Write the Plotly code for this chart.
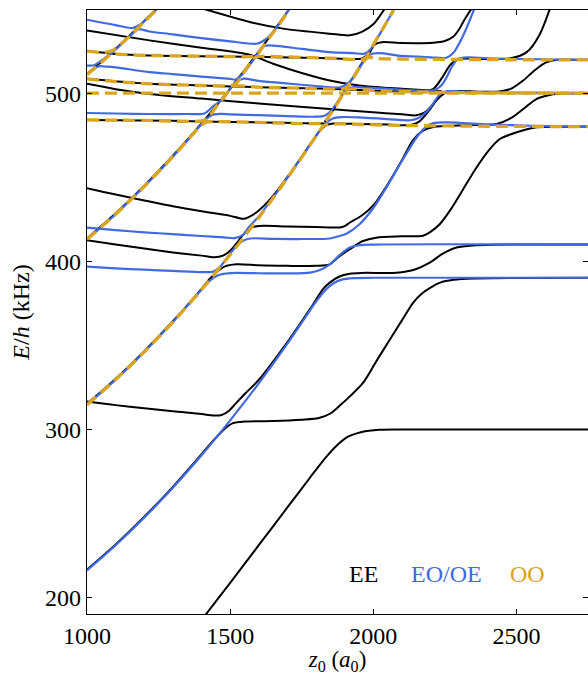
import plotly.graph_objects as go

BLACK = "#000000"
BLUE = "#4169E1"
GOLD = "#DAA520"
SERIF = "'Liberation Serif', 'Times New Roman', 'DejaVu Serif', serif"

# ---------------- EE levels (black) ----------------
ee1_z = [1405, 1500, 1600, 1700, 1780, 1830, 1870, 1910, 1960, 2020, 2100, 2750]
ee1_e = [187.5, 208.5, 231, 253.5, 271.5, 282.5, 290, 295.5, 298.5, 299.8, 300, 300]

ee2_z = [1000, 1100, 1200, 1300, 1380, 1430, 1460, 1485, 1510, 1550, 1650, 1750, 1810, 1850, 1885, 1920, 1964, 2010, 2058, 2100, 2139, 2170, 2200, 2233, 2280, 2350, 2750]
ee2_e = [216.5, 231.5, 248, 265.8, 281.2, 291.2, 296.8, 301, 303.8, 304.7, 305, 305.8, 306.8, 309.5, 314.5, 320, 327.7, 340.5, 353.6, 365, 375.5, 381, 384.5, 387.5, 389.2, 390, 390.4]

ee3_z = [1000, 1100, 1200, 1300, 1400, 1440, 1470, 1495, 1520, 1550, 1600, 1700, 1780, 1825, 1848, 1880, 1918, 1960, 2081, 2140, 2197, 2240, 2291, 2349, 2420, 2750]
ee3_e = [316.7, 314.5, 312.7, 310.8, 309.2, 308.3, 308.6, 311, 315.5, 321, 329.5, 352, 372, 383.8, 387.5, 391, 392.8, 393.3, 393.4, 395, 399.4, 404.5, 408.4, 409.7, 410.1, 410.2]

ee4_z = [1000, 1100, 1200, 1300, 1400, 1430, 1455, 1480, 1522, 1600, 1700, 1800, 1848, 1880, 1918, 1964, 2010, 2100, 2174, 2200, 2232, 2270, 2314, 2360, 2407, 2442, 2501, 2571, 2650, 2750]
ee4_e = [315.2, 330.2, 346.7, 364.5, 383.8, 390, 394, 397, 398.4, 397.8, 397.5, 397.5, 398.4, 403, 407.4, 412.3, 414.3, 415.1, 415.5, 417.8, 422.3, 431, 443.2, 456, 467.1, 473.1, 477.1, 480.1, 480.4, 480.5]

ee5_z = [1000, 1100, 1200, 1300, 1400, 1445, 1475, 1500, 1525, 1545, 1570, 1600, 1700, 1800, 1883, 1900, 1920, 1960, 2000, 2050, 2100, 2139, 2174, 2210, 2244, 2330, 2431, 2480, 2524, 2571, 2620, 2664, 2750]
ee5_e = [412.7, 410.2, 407.8, 405.5, 403.6, 402.6, 403.6, 406.5, 411.5, 416, 420, 421.3, 421, 420.6, 420.4, 421.2, 423.5, 427.5, 433.5, 446, 460.5, 472.5, 478.1, 480.3, 480.8, 481.3, 482.1, 485.5, 491, 497, 499.5, 500.2, 500.4]

ee6_z = [1000, 1100, 1200, 1300, 1400, 1500, 1530, 1550, 1570, 1600, 1650, 1700, 1750, 1790, 1815, 1835, 1860, 1950, 2050, 2130, 2160, 2190, 2220, 2250, 2290, 2431, 2480, 2520, 2560, 2600, 2640, 2700, 2750]
ee6_e = [443.8, 440, 436.5, 433, 430, 427.3, 426, 425.6, 427, 430.5, 439.2, 450.4, 462.6, 472.6, 478.5, 481.3, 482.3, 482, 481.7, 481.5, 483.5, 489, 496, 500.5, 501.6, 501.3, 503, 507.5, 513.5, 518.5, 520.3, 520.4, 520.3]

ee7_z = [1000, 1200, 1400, 1600, 1800, 1835]
ee7_e = [484.5, 484.2, 483.6, 483, 482.4, 482.3]

ee8_z = [1000, 1100, 1218, 1400, 1600, 1848, 2000, 2100, 2150, 2180, 2210, 2240, 2270]
ee8_e = [506, 502.8, 500, 497.2, 494.3, 491, 489, 487.8, 487.2, 489, 494, 500.5, 501.5]

ee9_z = [1000, 1218, 1400, 1600, 1848, 2000, 2180, 2210, 2240, 2270, 2300, 2400, 2480, 2536, 2580, 2617]
ee9_e = [509, 506, 505, 504, 503, 502, 501.4, 503, 509.5, 517.5, 520.8, 520.8, 521.2, 524.9, 535, 550.8]

ee10_z = [1000, 1100, 1218, 1500, 1848, 1960, 1985, 2005, 2030, 2100, 2210, 2250, 2279, 2300, 2314, 2343]
ee10_e = [525.5, 523.8, 522.9, 522.3, 521.3, 521.1, 524.2, 529.5, 530.8, 530.3, 530.5, 531.5, 534, 538.5, 542.9, 550.8]

ee11_z = [1000, 1218, 1400, 1568, 1650, 1750, 1848, 1950, 2100, 2240]
ee11_e = [537.8, 531.9, 527.5, 523.3, 518, 512.5, 508, 505, 503, 501.5]

ee12_z = [1405, 1568, 1685, 1848, 1918, 1960, 2000, 2040]
ee12_e = [550.8, 542.9, 538.9, 535.9, 534.9, 537, 541.5, 550.8]

ee13_z = [1830, 1860, 1900, 1950, 1990]
ee13_e = [483.3, 490.5, 501.8, 515.6, 526.4]

ee14_z = [1000, 1100, 1200, 1300, 1400, 1500, 1600, 1650, 1706]
ee14_e = [413.8, 428.8, 445.3, 463.1, 482.4, 503.2, 525.3, 537, 550.5]

ee15_z = [1000, 1050, 1100, 1150, 1200, 1245]
ee15_e = [511.9, 519.2, 526.9, 535, 543.4, 551]

# ---------------- EO/OE levels (blue) ----------------
eo1_z = [1000, 1100, 1200, 1300, 1400, 1500, 1600, 1700, 1760, 1800, 1835, 1860, 1890, 1930, 2000, 2750]
eo1_e = [216, 231, 247.5, 265.3, 284.6, 305.4, 327.5, 351.1, 366.2, 376.2, 383.5, 387, 389.3, 390.2, 390.4, 390.4]

eo2_z = [1000, 1100, 1200, 1300, 1360, 1400, 1430, 1460, 1500, 1600, 1700, 1780, 1820, 1848, 1880, 1918, 1950, 2000, 2750]
eo2_e = [314.7, 329.7, 346.2, 364, 375.5, 383.3, 388.8, 392, 393.2, 393.1, 393, 393.5, 395.5, 398.4, 403.5, 408.4, 409.8, 410.2, 410.2]

eo3_z = [1000, 1100, 1200, 1300, 1400, 1440, 1465, 1490, 1515, 1540, 1570, 1650, 1750, 1848, 1880, 1906, 1950, 2000, 2050, 2100, 2151, 2180, 2210, 2260, 2400, 2550, 2750]
eo3_e = [397, 396, 395.2, 394.5, 393.8, 394, 397, 402.5, 408, 412, 413.8, 413.6, 413.5, 413.8, 415.2, 416.7, 422, 432, 445.5, 460, 474, 479.8, 482.6, 483, 481.8, 481, 480.5]

eo4_z = [1000, 1100, 1200, 1300, 1400, 1480, 1515, 1545, 1565, 1600, 1650, 1700, 1750, 1790, 1815, 1835, 1860, 1890, 1950, 2050, 2130, 2160, 2185, 2210, 2235, 2260, 2300, 2400, 2750]
eo4_e = [420.3, 418.8, 417.5, 416.4, 415.3, 414.5, 414, 416, 420.5, 427, 438.3, 450, 462.3, 472.3, 478.5, 482.5, 485.5, 486.2, 486, 485, 484.3, 485.8, 489, 494.5, 500.2, 501.6, 501.3, 500.8, 500.4]

eo5_z = [1000, 1100, 1200, 1300, 1350, 1400, 1420, 1440, 1470, 1500, 1600, 1700, 1800, 1830, 1850, 1870, 1890, 1905, 1930, 1970, 2050, 2150, 2195, 2220, 2240, 2258, 2275, 2295, 2330, 2400, 2750]
eo5_e = [413.3, 428.3, 444.8, 462.6, 472.1, 481.9, 485.5, 487.6, 488.1, 487.8, 487.3, 486.8, 486.4, 487, 489.5, 494, 499, 502.5, 504, 503.8, 503, 502, 501.8, 502.8, 505.5, 510.5, 516.3, 520.8, 521.8, 521.2, 520.3]

eo6_z = [1000, 1100, 1218, 1350, 1410, 1440, 1470, 1500, 1520, 1545, 1600, 1700, 1800, 1880, 1900, 1930, 1950, 1970, 1990, 2020, 2100, 2200, 2255, 2280, 2300, 2320, 2352]
eo6_e = [488.6, 488.3, 488, 488, 488.3, 492.5, 496.5, 502.7, 506.8, 509, 507.8, 506.2, 504.7, 503.8, 505, 509.5, 515, 520, 523.5, 524.3, 522.6, 521.8, 521.5, 524.5, 530, 537, 550.3]

eo7_z = [1000, 1020, 1040, 1070, 1100, 1218, 1300, 1400, 1500, 1520, 1545, 1570, 1600, 1620, 1650, 1750, 1848, 1930, 1970, 1990, 2010, 2030, 2050, 2071]
eo7_e = [511.4, 514.2, 516.4, 516.2, 515.8, 513, 511.8, 510.3, 508.9, 508.6, 512, 517.5, 524.8, 528.5, 528.8, 526.8, 524.9, 524.3, 524, 526.5, 532, 537.8, 543.7, 550]

eo8_z = [1000, 1025, 1050, 1075, 1100, 1150, 1180, 1200, 1218, 1300, 1400, 1500, 1592, 1615, 1640, 1670, 1706]
eo8_e = [516.9, 517.1, 519.8, 523, 526.4, 534.5, 538.6, 538, 537.2, 535.5, 533.2, 531.3, 529.9, 531.5, 535, 541.3, 550.3]

eo9_z = [1000, 1100, 1160, 1190, 1210, 1242]
eo9_e = [544.2, 541, 539.3, 541.8, 545, 550.2]

# ---------------- OO levels (gold, dashed) ----------------
oo1_z = [1000, 1100, 1200, 1300, 1400, 1500, 1600, 1700, 1750, 1790, 1810, 1825, 1845, 1880, 2100, 2400, 2750]
oo1_e = [314.7, 329.7, 346.2, 364, 383.3, 404.1, 426.2, 449.8, 462.2, 472.3, 477.3, 480.8, 482.1, 482.1, 481.2, 480.7, 480.5]

oo2_z = [1000, 1100, 1200, 1300, 1350, 1380, 1400, 1415, 1440, 1600, 1800, 1830, 1850, 1870, 1890, 1905, 1925, 2000, 2200, 2500, 2750]
oo2_e = [413.3, 428.3, 444.8, 462.6, 472.1, 477.9, 481.3, 483.2, 483.5, 483, 482.3, 483, 487.9, 493.2, 498.6, 502.3, 503, 502, 501, 500.5, 500.4]

oo3_z = [1000, 1200, 1390, 1410, 1430, 1450, 1470, 1490, 1505, 1520, 1600, 1800, 1890, 1905, 1920, 1950, 1975, 1990, 2010, 2100, 2400, 2750]
oo3_e = [484.5, 484.2, 483.7, 484.5, 487.2, 492.1, 496.2, 500.6, 504, 504.8, 504, 503.2, 502.9, 503.5, 506.8, 515.1, 521, 521.8, 521.1, 520.8, 520.4, 520.3]

oo4_z = [1000, 1100, 1218, 1400, 1495, 1515, 1530, 1550, 1570, 1590, 1610, 1700, 1848, 1970, 1985, 2000, 2030, 2050, 2071]
oo4_e = [509, 507.3, 506, 505, 504.8, 505.5, 508, 513.6, 518.1, 522, 522.4, 522, 521.3, 521.1, 524.5, 529.2, 537.9, 543.7, 550]

oo5_z = [1000, 1050, 1075, 1090, 1120, 1218, 1400, 1570, 1590, 1610, 1620, 1650, 1680, 1706]
oo5_e = [511.4, 518.7, 522.5, 523.8, 523.5, 522.9, 522.5, 522.2, 522.6, 527, 529.4, 536.5, 543.5, 550]

oo6_z = [1000, 1060, 1085, 1100, 1150, 1200, 1242]
oo6_e = [525.5, 524.7, 525.5, 527, 534.5, 542.9, 550]

oo7_z = [1000, 2750]
oo7_e = [500.4, 500.4]

ee_levels = [(ee1_z, ee1_e), (ee2_z, ee2_e), (ee3_z, ee3_e), (ee4_z, ee4_e), (ee5_z, ee5_e),
             (ee6_z, ee6_e), (ee7_z, ee7_e), (ee8_z, ee8_e), (ee9_z, ee9_e), (ee10_z, ee10_e),
             (ee11_z, ee11_e), (ee12_z, ee12_e), (ee13_z, ee13_e), (ee14_z, ee14_e), (ee15_z, ee15_e)]
eo_levels = [(eo1_z, eo1_e), (eo2_z, eo2_e), (eo3_z, eo3_e), (eo4_z, eo4_e), (eo5_z, eo5_e),
             (eo6_z, eo6_e), (eo7_z, eo7_e), (eo8_z, eo8_e), (eo9_z, eo9_e)]
oo_levels = [(oo1_z, oo1_e), (oo2_z, oo2_e), (oo3_z, oo3_e), (oo4_z, oo4_e), (oo5_z, oo5_e),
             (oo6_z, oo6_e), (oo7_z, oo7_e)]

legend_labels = ["EE", "EO/OE", "OO"]
legend_colors = [BLACK, BLUE, GOLD]
legend_z = [1967, 2254, 2537]
legend_e = 214

fig = go.Figure()

for z, e in ee_levels:
    fig.add_trace(go.Scatter(x=z, y=e, mode="lines",
                             line=dict(color=BLACK, width=2, shape="spline", smoothing=0.8),
                             hoverinfo="skip", showlegend=False))
for z, e in eo_levels:
    fig.add_trace(go.Scatter(x=z, y=e, mode="lines",
                             line=dict(color=BLUE, width=2.2, shape="spline", smoothing=0.8),
                             hoverinfo="skip", showlegend=False))
for z, e in oo_levels:
    fig.add_trace(go.Scatter(x=z, y=e, mode="lines",
                             line=dict(color=GOLD, width=3.3, dash="12px,6px", shape="spline", smoothing=0.8),
                             hoverinfo="skip", showlegend=False))

for lab, col, zx in zip(legend_labels, legend_colors, legend_z):
    fig.add_annotation(x=zx, y=legend_e, text=lab, showarrow=False,
                       font=dict(family=SERIF, size=24, color=col))

axis_common = dict(showline=True, linecolor="black", linewidth=1.3, mirror="ticks",
                   ticks="inside", ticklen=5, tickwidth=1, tickcolor="black",
                   showgrid=False, zeroline=False,
                   tickfont=dict(family=SERIF, size=24, color="black"))

fig.update_layout(
    width=588, height=675,
    margin=dict(l=87, r=0, t=10, b=61),
    paper_bgcolor="white", plot_bgcolor="white",
    font=dict(family=SERIF),
    xaxis=dict(range=[1000, 2750], tickvals=[1000, 1500, 2000, 2500],
               title=dict(text="<i>z</i><sub>0</sub> (<i>a</i><sub>0</sub>)",
                          font=dict(family=SERIF, size=23, color="black"), standoff=11),
               **axis_common),
    yaxis=dict(range=[190, 550], tickvals=[200, 300, 400, 500],
               title=dict(text="<i>E</i>/<i>h</i> (kHz)",
                          font=dict(family=SERIF, size=24, color="black"), standoff=8),
               **axis_common),
)

fig.write_html("out.html")
